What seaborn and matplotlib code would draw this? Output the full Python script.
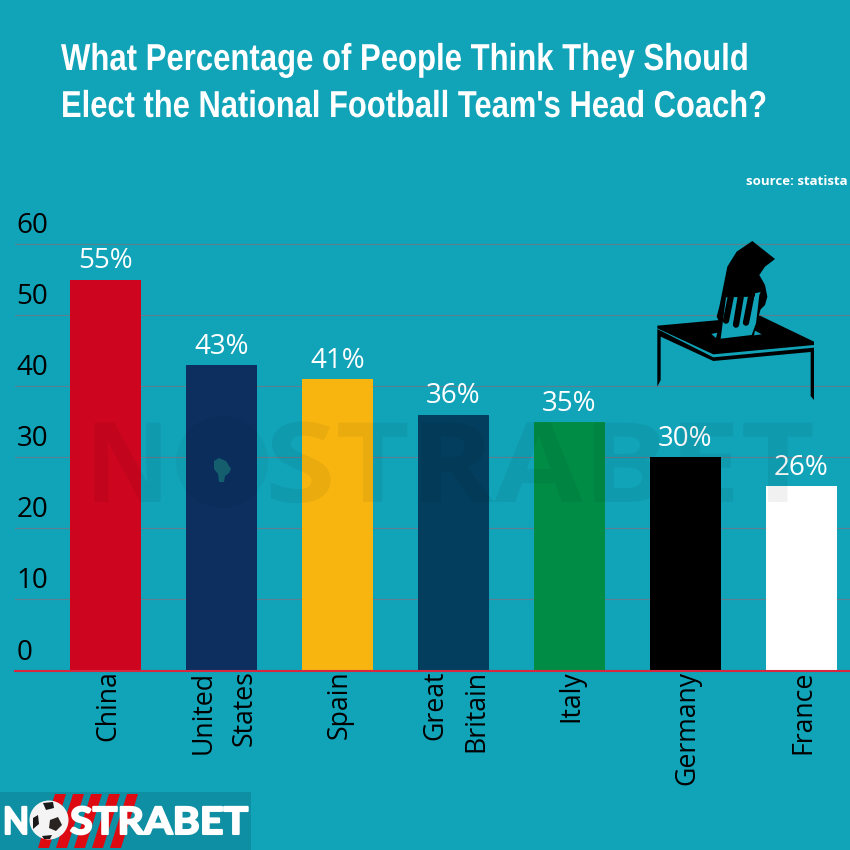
import matplotlib
matplotlib.use("Agg")
import matplotlib.pyplot as plt
import seaborn as sns
import pandas as pd
from matplotlib.patches import Polygon, Rectangle, Circle
from matplotlib.patheffects import AbstractPathEffect
from matplotlib.text import Text
from matplotlib.transforms import Affine2D, ScaledTranslation

countries = ["China", "United\nStates", "Spain", "Great\nBritain", "Italy", "Germany", "France"]
values = [55, 43, 41, 36, 35, 30, 26]
bar_colors = ["#CE051F", "#0C2F60", "#F8B510", "#033E5E", "#008C45", "#000000", "#FFFFFF"]
y_ticks = [0, 10, 20, 30, 40, 50, 60]
BG = "#11A3B8"

sns.set_theme(style="white")
plt.rcParams["font.family"] = ["Open Sans", "DejaVu Sans"]

fig = plt.figure(figsize=(8.5, 8.5), dpi=100, facecolor=BG)
ax = fig.add_axes([15 / 850, (850 - 670.5) / 850, 835 / 850, (670.5 - 244) / 850 * 63 / 60])
ax.set_facecolor(BG)
df = pd.DataFrame({"country": countries, "value": values})
sns.barplot(data=df, x="country", y="value", hue="country", palette=bar_colors,
            legend=False, width=0.612, saturation=1, linewidth=0, edgecolor="none", ax=ax)
ax.set_xlim(-0.78, 6.42)
ax.set_ylim(0, 63)
ax.set_xlabel("")
ax.set_ylabel("")
sns.despine(ax=ax, left=True, top=True, right=True)
ax.spines["bottom"].set_color("#D8283F")
ax.spines["bottom"].set_linewidth(1.5)
ax.set_axisbelow(True)
ax.yaxis.grid(True, color="#5D7F92", lw=0.8)
ax.set_yticks(y_ticks)
ax.set_yticklabels([str(v) for v in y_ticks], fontsize=20, color="black", ha="left", va="bottom")
ax.tick_params(axis="y", length=0, pad=-1)
for lab in ax.get_yticklabels():
    lab.set_transform(lab.get_transform() + ScaledTranslation(0, 4 / 100, fig.dpi_scale_trans))
ax.tick_params(axis="x", length=0, pad=0)
ax.set_xticks(range(len(countries)))
ax.set_xticklabels(countries, rotation=90, fontsize=19.2, color="black", va="top", ha="center",
                   linespacing=1.62, multialignment="right")
for lab in ax.get_xticklabels():
    lab.set_transform(lab.get_transform() + ScaledTranslation(2.5 / 100, 0, fig.dpi_scale_trans))
for c in ax.containers:
    ax.bar_label(c, labels=[f"{int(round(v))}%" for v in c.datavalues], color="white",
                 fontsize=20, padding=3)

ov = fig.add_axes([0, 0, 1, 1], facecolor="none")
ov.set_xlim(0, 850)
ov.set_ylim(850, 0)
ov.axis("off")


class _Tall(AbstractPathEffect):
    """Scale glyph outlines vertically about the baseline, optionally emboldening."""

    def __init__(self, y0, sy, stroke=0.0):
        super().__init__()
        self.y0, self.sy, self.stroke = y0, sy, stroke

    def draw_path(self, renderer, gc, tpath, affine, rgbFace=None):
        aff = affine + Affine2D().translate(0, -self.y0).scale(1, self.sy).translate(0, self.y0)
        gc0 = renderer.new_gc()
        gc0.copy_properties(gc)
        if self.stroke:
            gc0.set_linewidth(self.stroke)
            gc0.set_foreground(rgbFace)
        else:
            gc0.set_linewidth(0)
        renderer.draw_path(gc0, tpath, aff, rgbFace)
        gc0.restore()


def fit_text(x_left, x_right, y, s, fontsize, stroke=0.0, **kw):
    """Real text sized to fill a horizontal span, with the look of `fontsize` in height."""
    t = Text(x_left, y, s, ha="left", va="baseline", fontsize=fontsize, **kw)
    ov.add_artist(t)
    width = t.get_window_extent(fig.canvas.get_renderer()).width
    sx = (x_right - x_left) / width
    t.set_fontsize(fontsize * sx)
    y0 = ov.transData.transform((0, y))[1]
    t.set_path_effects([_Tall(y0, 1 / sx, stroke)])
    return t


# watermark
fit_text(85, 170, 502, "N", 80, fontweight="bold", color="black", alpha=0.055)
fit_text(265, 815, 502, "STRABET", 80, fontweight="bold", color="black", alpha=0.055)
ov.add_patch(Circle((222, 462), 46, facecolor="black", edgecolor="none", alpha=0.03))
ov.add_patch(Polygon([(214, 461), (219, 458), (226, 461), (231, 469), (229, 473), (225, 476),
                      (224, 482), (219, 482), (218, 474), (214, 469)],
                     facecolor="#155E6E", edgecolor="none"))

title_font = ["Liberation Sans", "DejaVu Sans"]
fit_text(61, 749, 70, "What Percentage of People Think They Should", 27, fontweight="bold",
         color="white", family=title_font)
fit_text(61, 767, 117, "Elect the National Football Team's Head Coach?", 27, fontweight="bold",
         color="white", family=title_font)
ov.text(848, 181, "source: statista", fontsize=9.5, fontweight="bold", color="white", ha="right", va="center")


def z(pts):
    return [(640 + x / 3, 160 + y / 3) for x, y in pts]


def poly(pts, color):
    ov.add_patch(Polygon(z(pts), closed=True, facecolor=color, edgecolor="none"))


poly([(337, 243), (405, 297), (375, 320), (358, 345), (375, 375), (382, 410), (375, 435), (362, 448),
      (350, 490), (240, 490), (230, 470), (238, 440), (250, 380), (262, 320), (290, 275)], "black")
poly([(52, 497), (240, 480), (360, 467), (522, 545), (522, 555), (220, 583), (52, 505)], "black")
poly([(52, 507), (220, 592), (522, 563), (522, 575), (220, 603), (62, 530), (62, 660), (52, 680)], "black")
poly([(512, 575), (522, 572), (522, 720), (512, 708)], "black")
poly([(214, 522), (232, 518), (228, 534)], BG)
poly([(345, 512), (365, 523), (342, 526)], BG)
poly([(258, 412), (345, 410), (345, 400), (362, 396), (358, 405), (348, 490), (335, 525), (242, 536)], BG)
for x0, y0, x1, y1 in [(272, 412, 258, 482), (302, 412, 288, 494), (333, 412, 318, 488)]:
    ov.plot([640 + x0 / 3, 640 + x1 / 3], [160 + y0 / 3, 160 + y1 / 3], color="black", lw=4.5,
            solid_capstyle="round")

# logo
ov.add_patch(Rectangle((0, 792), 251, 58, facecolor="#0E8FA3", edgecolor="none"))
for dx in [0, 18, 36, 54, 72]:
    ov.add_patch(Polygon([(55 + dx, 794), (66 + dx, 794), (49 + dx, 848), (38 + dx, 848)],
                         closed=True, facecolor="#DD0A12", edgecolor="none"))
logo_font = ["Lato", "Open Sans", "DejaVu Sans"]
fit_text(3, 29, 834, "N", 27, stroke=1.5, fontweight="bold", color="white", family=logo_font)
fit_text(70, 248, 834, "STRABET", 27, stroke=1.5, fontweight="bold", color="white", family=logo_font)
ov.add_patch(Circle((49, 820), 19.5, facecolor="#F4F4F4", edgecolor="none"))
ov.add_patch(Polygon([(43, 803), (53, 802), (54, 808), (46, 810)], facecolor="#1A1A1A", edgecolor="none"))
ov.add_patch(Polygon([(50, 820), (58, 817), (62, 825), (56, 831), (49, 828)], facecolor="#2A2420", edgecolor="none"))
ov.add_patch(Polygon([(33, 818), (38, 815), (39, 824), (33, 829)], facecolor="#1A1A1A", edgecolor="none"))
ov.add_patch(Polygon([(42, 836), (52, 835), (50, 839), (44, 839)], facecolor="#1A1A1A", edgecolor="none"))

fig.savefig("out.png", dpi=100, facecolor=BG)
